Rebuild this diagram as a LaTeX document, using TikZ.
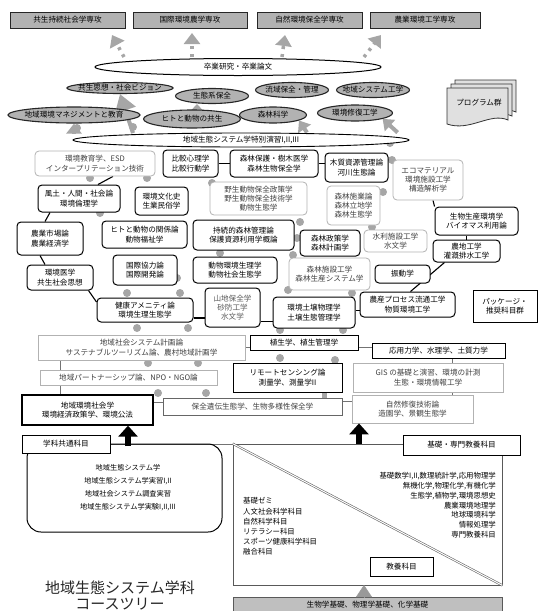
\documentclass[tikz,border=0pt]{standalone}
\usepackage{fontspec}
\setmainfont{Noto Sans CJK JP}
\usepackage{tikz}
\usetikzlibrary{shapes.geometric,arrows.meta,backgrounds}

\begin{document}
\begin{tikzpicture}[x=1pt,y=-1pt,
    font=\fontsize{7.6}{9.3}\selectfont,
    bk/.style={draw=black,line width=1pt,rounded corners=4pt,fill=white,align=center,inner sep=1pt},
    lt/.style={draw=black!30,line width=0.8pt,rounded corners=4pt,fill=white,align=center,inner sep=1pt,text=black!75},
    bkr/.style={draw=black,line width=0.9pt,fill=white,align=center,inner sep=1pt},
    ltr/.style={draw=black!30,line width=0.8pt,fill=white,align=center,inner sep=1pt,text=black!75},
    major/.style={draw=black!85,fill=black!30,line width=1pt,inner sep=0pt},
    prog/.style={ellipse,draw=black!85,fill=black!30,line width=1.1pt,inner sep=0pt},
    gdash/.style={black!35,line width=3.5pt,dash pattern=on 3pt off 5pt,-{Triangle[length=11pt,width=16pt]}},
    garr/.style={black!35,line width=4pt,-{Triangle[length=10pt,width=15pt]}},
    barr/.style={black,line width=6pt,-{Triangle[length=11pt,width=19pt]}},
    link/.style={black,line width=1.1pt},
    glink/.style={black!55,line width=0.9pt}
  ]
  \useasboundingbox (0,0) rectangle (541,611);

  % majors
  \node[major,minimum width=115pt,minimum height=16pt] (kyoseiM) at (67.5,20) {共生持続社会学専攻};
  \node[major,minimum width=114pt,minimum height=16pt] (kokusaiM) at (190,20) {国際環境農学専攻};
  \node[major,minimum width=105pt,minimum height=16pt] (shizenM) at (309.5,20) {自然環境保全学専攻};
  \node[major,minimum width=110pt,minimum height=16pt] (nogyoM) at (425,20) {農業環境工学専攻};

  \node[ellipse,draw,line width=1pt,fill=white,minimum width=286pt,minimum height=17pt,inner sep=0pt] (sotsu) at (238,67) {卒業研究・卒業論文};

  % programs
  \node[prog,minimum width=106pt,minimum height=11pt] (kyoseiP) at (120,88) {\makebox[0pt]{共生思想・社会ビジョン}};
  \node[prog,minimum width=73pt,minimum height=15pt] (seitaiP) at (212,96) {\makebox[0pt]{生態系保全}};
  \node[prog,minimum width=73pt,minimum height=15pt] (ryuikiP) at (292,90) {\makebox[0pt]{流域保全・管理}};
  \node[prog,minimum width=73pt,minimum height=15pt] (chiikiP) at (373,90) {\makebox[0pt]{地域システム工学}};
  \node[prog,minimum width=132pt,minimum height=16pt] (kanriP) at (74,115) {\makebox[0pt]{地域環境マネジメントと教育}};
  \node[prog,minimum width=97pt,minimum height=18pt] (hitoP) at (192,119) {\makebox[0pt]{ヒトと動物の共生}};
  \node[prog,minimum width=67pt,minimum height=16pt] (shinrinP) at (273,115) {\makebox[0pt]{森林科学}};
  \node[prog,minimum width=75pt,minimum height=16pt] (shufukuP) at (355,113) {\makebox[0pt]{環境修復工学}};

  \foreach \d in {8,4,0}
    \draw[black!80,line width=0.8pt,fill=black!12] (447+\d,88-\d) -- (508+\d,88-\d) -- (508+\d,120-\d)
      .. controls (490+\d,112-\d) and (470+\d,132-\d) .. (447+\d,124-\d) -- cycle;
  \node (gun) at (479,103) {プログラム群};

  \node[ellipse,draw,line width=0.9pt,fill=white,minimum width=336pt,minimum height=14pt,inner sep=0pt] (tokubetsu) at (241,140) {\makebox[0pt]{地域生態システム学特別演習I,II,III}};

  % subjects
  \node[lt,minimum width=120pt,minimum height=25pt] (kyoiku) at (95,163.5) {環境教育学、ESD\\インタープリテーション技術};
  \node[bk,minimum width=55pt,minimum height=27pt] (hikaku) at (190.5,163.5) {比較心理学\\比較行動学};
  \node[bk,minimum width=88pt,minimum height=27pt] (hogo) at (274,163.5) {森林保護・樹木医学\\森林生物保全学};
  \node[bk,minimum width=63pt,minimum height=29pt] (mokuzai) at (356.5,167.5) {木質資源管理論\\河川生態論};
  \node[lt,minimum width=70pt,minimum height=40pt] (eco) at (428,180) {エコマテリアル\\環境施設工学\\構造解析学};

  \node[bk,minimum width=82pt,minimum height=27pt] (fudo) at (79,198.5) {風土・人間・社会論\\環境倫理学};
  \node[bk,minimum width=53pt,minimum height=28pt] (bunka) at (161.5,201) {環境文化史\\生業民俗学};
  \node[lt,minimum width=97pt,minimum height=33pt] (yasei) at (258.5,198.5) {野生動物保全政策学\\野生動物保全技術学\\動物生態学};
  \node[lt,minimum width=53pt,minimum height=39pt] (sehgyo) at (353.5,205.5) {森林施業論\\森林立地学\\森林生態学};
  \node[bk,minimum width=83pt,minimum height=28pt] (seisan) at (476.5,221) {生物生産環境学\\バイオマス利用論};

  \node[bk,minimum width=66pt,minimum height=33pt] (shijo) at (50,238.5) {農業市場論\\農業経済学};
  \node[bk,minimum width=85pt,minimum height=27pt] (kankei) at (144.5,234.5) {ヒトと動物の関係論\\動物福祉学};
  \node[bk,minimum width=101pt,minimum height=30pt] (jizoku) at (243.5,235) {持続的森林管理論\\保護資源利用学概論};
  \node[bk,minimum width=60pt,minimum height=26pt] (seisaku) at (330,243) {森林政策学\\森林計画学};
  \node[lt,minimum width=63pt,minimum height=22pt] (suiri) at (395.5,241) {水利施設工学\\水文学};
  \node[bk,minimum width=67pt,minimum height=22pt] (nochi) at (466.5,251) {農地工学\\灌漑排水工学};

  \node[bk,minimum width=66pt,minimum height=25pt] (igaku) at (60,277.5) {環境医学\\共生社会思想};
  \node[bk,minimum width=64pt,minimum height=30pt] (kyoryoku) at (145,270) {国際協力論\\国際開発論};
  \node[bk,minimum width=84pt,minimum height=26pt] (seiri) at (235,270) {動物環境生理学\\動物社会生態学};
  \node[lt,minimum width=81pt,minimum height=32pt] (shisetsu) at (329.5,274) {森林施設工学\\森林生産システム学};
  \node[bk,minimum width=55pt,minimum height=18pt] (shindo) at (402.5,274) {振動学};
  \node[bkr,minimum width=64pt,minimum height=32pt] (package) at (505,306) {パッケージ・\\推奨科目群};

  \node[bk,minimum width=96pt,minimum height=24pt] (amenity) at (145,310) {健康アメニティ論\\環境生理生態学};
  \node[bk,minimum width=55pt,minimum height=39pt,text=black!65] (sabo) at (232.5,307.5) {山地保全学\\砂防工学\\水文学};
  \node[bk,minimum width=82pt,minimum height=31pt] (dojo) at (314,312.5) {環境土壌物理学\\土壌生態管理学};
  \node[bk,minimum width=95pt,minimum height=25pt] (process) at (407.5,304.5) {農産プロセス流通工学\\物質環境工学};

  \node[ltr,minimum width=207pt,minimum height=25pt] (keikaku) at (141.5,347.5) {地域社会システム計画論\\サステナブルツーリズム論、農村地域計画学};
  \node[bkr,minimum width=108pt,minimum height=15pt] (shokusei) at (304,342.5) {植生学、植生管理学};
  \node[bkr,minimum width=133pt,minimum height=15pt] (rikigaku) at (438.5,350.5) {応用力学、水理学、土質力学};

  \node[ltr,minimum width=177pt,minimum height=15pt] (partner) at (128.5,377.5) {地域パートナーシップ論、NPO・NGO論};
  \node[bkr,minimum width=109pt,minimum height=29pt] (remote) at (287.5,377.5) {リモートセンシング論\\測量学、測量学II};
  \node[ltr,minimum width=150pt,minimum height=29pt] (gis) at (428,377.5) {GIS の基礎と演習、環境の計測\\生態・環境情報工学};

  \node[bkr,line width=1.3pt,minimum width=131pt,minimum height=30pt] (shakai) at (87.5,410) {地域環境社会学\\環境経済政策学、環境公法};
  \node[ltr,draw=black!60,minimum width=179pt,minimum height=17pt] (iden) at (252.5,406.5) {保全遺伝生態学、生物多様性保全学};
  \node[ltr,minimum width=121pt,minimum height=28pt] (shufuku) at (412.5,409) {自然修復技術論\\造園学、景観生態学};

  % common and basic subjects
  \node[draw,line width=1pt,rounded corners=14pt,minimum width=195pt,minimum height=88pt] (kyotsuW) at (124.5,488) {};
  \node[align=center,font=\fontsize{7.2}{13}\selectfont] (kyotsuL) at (128,487.5) {地域生態システム学\\地域生態システム学実習I,II\\地域社会システム調査実習\\地域生態システム学実験I,II,III};
  \node[bkr,minimum width=88pt,minimum height=18pt] (kyotsu) at (66,444) {学科共通科目};
  \node[draw=black!65,line width=0.8pt,minimum width=269pt,minimum height=141pt] (kisoW) at (367.5,514.5) {};
  \node[bkr,minimum width=117pt,minimum height=20pt] (kiso) at (461.5,445) {基礎・専門教養科目};
  \draw[black!60,double,double distance=1pt,line width=0.6pt] (kisoW.north west) -- (kisoW.south east);
  \node[bkr,minimum width=63pt,minimum height=19pt] (kyoyo) at (401.5,566.5) {教養科目};
  \node[anchor=north west,align=left,inner sep=0pt,font=\fontsize{7.4}{10.2}\selectfont] (ippan) at (243,497.5)
    {基礎ゼミ\\人文社会科学科目\\自然科学科目\\リテラシー科目\\スポーツ健康科学科目\\融合科目};
  \node[anchor=north east,align=right,inner sep=0pt,font=\fontsize{7.4}{9.7}\selectfont] (senmon) at (496,472.5)
    {基礎数学I,II,数理統計学,応用物理学\\無機化学,物理化学,有機化学\\生態学,植物学,環境思想史\\農業環境地理学\\地球環境科学\\情報処理学\\専門教養科目};
  \node[draw=black!65,fill=black!25,minimum width=269pt,minimum height=16pt] (kiban) at (367.5,605) {生物学基礎、物理学基礎、化学基礎};
  \node[align=center,font=\fontsize{15}{16}\selectfont,text=black!85] (title) at (120,595) {地域生態システム学科\\コースツリー};

  \coordinate (g1) at (124,57); \coordinate (h1) at (112,35);
  \coordinate (g2) at (192,57); \coordinate (h2) at (192,33);
  \coordinate (g3) at (282,57); \coordinate (h3) at (285,35);
  \coordinate (g4) at (364,57); \coordinate (h4) at (381,35);
  \coordinate (u1) at (133,133);
  \coordinate (arrA) at (128,446);
  \coordinate (arrB) at (359,444);

  \begin{scope}[on background layer]
    % to majors
    \draw[gdash] (g1) -- (h1);
    \draw[gdash] (g2) -- (h2);
    \draw[gdash] (g3) -- (h3);
    \draw[gdash] (g4) -- (h4);
    % to programs
    \draw[garr] (tokubetsu.north -| kanriP.south) -- (kanriP.south);
    \draw[garr,-{Triangle[length=17pt,width=21pt]}] (u1) -- (kyoseiP.south);
    \draw[garr,-{Triangle[length=6pt,width=11pt]}] ([xshift=5pt]hitoP.north) -- ([xshift=5pt]hitoP.north |- seitaiP.south);
    \draw[garr] ([xshift=8pt]tokubetsu.north -| shinrinP.-12) -- (shinrinP.-12);
    \draw[garr] ([xshift=15pt]tokubetsu.north -| shufukuP.-12) -- (shufukuP.-12);
    % bumps
    \foreach \p in {(77,128),(133,127),(390,143),(90,178),(147,178),(100,213),
        (212,183),(300,222),(297,238),(392,160),(383,192),(372,227),
        (220,253),(127,293),(180,293),(137,328),(188,328),(177,278),(148,363),(198,363),
        (293,255),(288,290),(352,293),(280,330),(343,330),
        (158,393),(206,393),(280,358),(335,360)}
      \fill[black!35] \p circle (4pt);
    % black links
    \draw[link] ([xshift=18pt]kyoiku.south) -- ([xshift=19pt]fudo.north);
    \draw[link] (hikaku.east) -- (hogo.west);
    \draw[link] (hogo.east) -- (hogo.east -| mokuzai.west);
    \draw[link] ([xshift=-29pt]fudo.south) -- ([xshift=-5pt]shijo.north);
    \draw[link] ([xshift=-10pt]shijo.south) -- ([xshift=-15pt]igaku.north);
    \draw[link] ([xshift=-5pt]igaku.south east) -- ([yshift=8pt]amenity.west);
    \draw[link] ([yshift=-8pt]amenity.east) -- ([yshift=-8pt]amenity.east -| sabo.west);
    \draw[link] ([yshift=-14pt]sabo.east) -- ([yshift=-14pt]sabo.east -| dojo.west);
    \draw[link] ([yshift=2pt]dojo.east) -- ([yshift=2pt]dojo.east -| process.west);
    \draw[link] ([xshift=3pt]process.north) -- ([xshift=-22pt]nochi.south);
    \draw[link] (nochi.north) -- (nochi.north |- seisan.south);
    \draw[link] (seisan.north west) -- ([xshift=5pt]eco.south);
    % grey links
    \draw[glink] (keikaku.east) -- (keikaku.east -| shokusei.west);
    \draw[glink] ([yshift=-4.5pt]shokusei.east) -- ([yshift=-4.5pt]shokusei.east -| rikigaku.west);
    \draw[glink] ([xshift=-81.5pt]keikaku.south) -- ([xshift=-81.5pt]keikaku.south |- shakai.north);
    \draw[glink] ([yshift=8pt]shakai.east) -- ([yshift=8pt]shakai.east -| iden.west);
    \draw[glink] ([yshift=5pt]iden.east) -- ([yshift=5pt]iden.east -| shufuku.west);
    \draw[glink] ([xshift=13.5pt]rikigaku.south) -- ([xshift=13.5pt]rikigaku.south |- gis.north);
    \draw[glink] ([xshift=24pt]gis.south) -- ([xshift=24pt]gis.south |- shufuku.north);
    \draw[black!35,line width=5pt] ([xshift=37pt]remote.south) -- ([xshift=37pt]remote.south |- iden.north);
    \draw[glink] (kyotsu.east) -- (kyotsu.east -| kiso.west);
  \end{scope}

  \draw[barr] (arrA) -- (arrA |- shakai.south);
  \draw[barr] (arrB) -- (arrB |- shufuku.south);
  \draw[black!40,line width=0.5pt,-{Triangle[length=12pt,width=16pt]}] (kiban.north -| 364,0) -- (364,585);
\end{tikzpicture}
\end{document}
